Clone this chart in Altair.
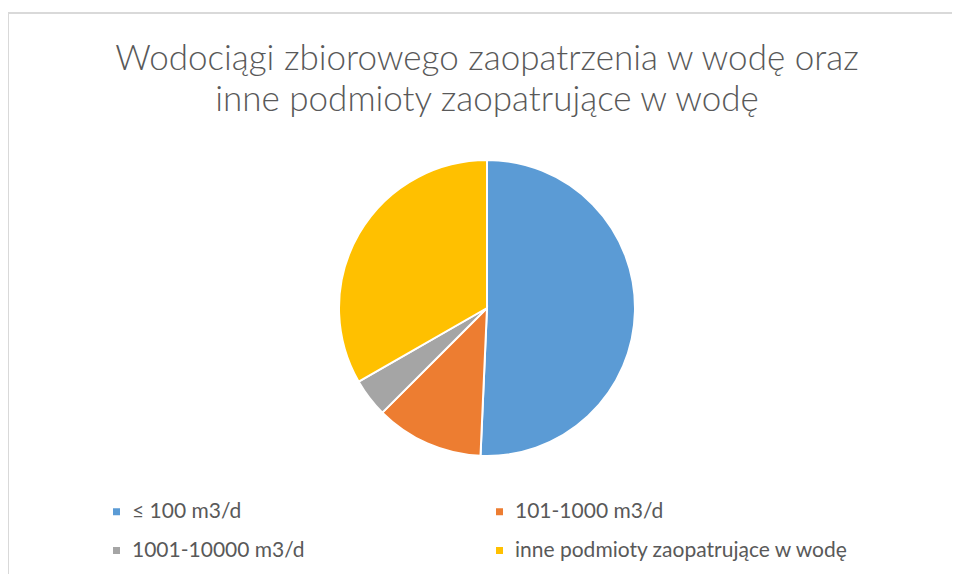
import altair as alt
import pandas as pd

categories = ["≤ 100 m3/d", "101-1000 m3/d", "1001-10000 m3/d", "inne podmioty zaopatrujące w wodę"]
values = [50.7, 11.8, 4.2, 33.3]
colors = ["#5B9BD5", "#ED7D31", "#A5A5A5", "#FFC000"]
title_lines = ["Wodociągi zbiorowego zaopatrzenia w wodę oraz", "inne podmioty zaopatrujące w wodę"]

df = pd.DataFrame({"kategoria": categories, "wartosc": values, "kolejnosc": list(range(len(categories)))})

W, H = 944, 566

pie = alt.Chart(df).mark_arc(outerRadius=148, stroke="white", strokeWidth=2).encode(
    theta=alt.Theta("wartosc:Q", stack=True),
    order=alt.Order("kolejnosc:Q"),
    x=alt.value(479),
    y=alt.value(300),
    color=alt.Color(
        "kategoria:N",
        scale=alt.Scale(domain=categories, range=colors),
        sort=categories,
        legend=alt.Legend(
            title=None,
            orient="none",
            legendX=98,
            legendY=493,
            columns=2,
            direction="horizontal",
            symbolType="square",
            symbolSize=49,
            symbolStrokeWidth=0,
            labelFontSize=21,
            labelFont="Lato",
            labelFontWeight="normal",
            labelColor="#595959",
            labelOffset=5,
            labelLimit=500,
            rowPadding=17,
            columnPadding=184,
        ),
    ),
)

border = alt.Chart(pd.DataFrame({"k": [0]})).mark_rule(color="#D9D9D9", strokeWidth=2).encode(
    x=alt.value(0), x2=alt.value(W), y=alt.value(5)
)
border_left = alt.Chart(pd.DataFrame({"k": [0]})).mark_rule(color="#D9D9D9", strokeWidth=2).encode(
    x=alt.value(0), y=alt.value(4), y2=alt.value(H)
)

chart = alt.layer(border, border_left, pie).properties(
    width=W,
    height=H,
    autosize=alt.AutoSizeParams(type="none"),
    padding=0,
    title=alt.TitleParams(
        text=title_lines,
        fontSize=35,
        font="Lato",
        fontWeight=300,
        color="#595959",
        anchor="middle",
        baseline="alphabetic",
        offset=0,
        dy=138,
        dx=7,
        lineHeight=41,
    ),
).configure_view(stroke=None)

chart.save("out.html", embed_options={"renderer": "svg", "actions": False})
